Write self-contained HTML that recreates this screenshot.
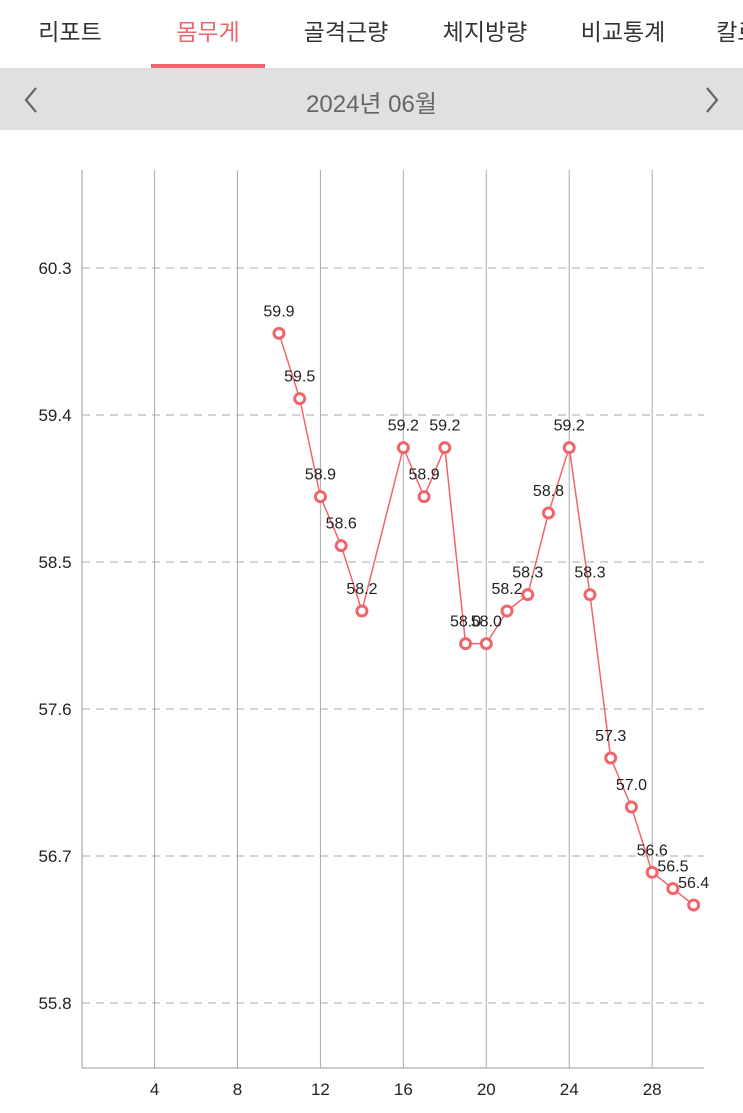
<!DOCTYPE html>
<html><head><meta charset="utf-8"><style>
body{margin:0;width:743px;height:1113px;background:#fff;font-family:"Liberation Sans","Noto Sans CJK KR",sans-serif;overflow:hidden;position:relative}
.tab{position:absolute;top:13px;font-size:23px;color:#333;transform:translateX(-50%);white-space:nowrap}
</style></head><body>
<div style="position:absolute;left:0;top:0;width:743px;height:68px;border-bottom:1px solid #ddd">
<div class="tab" style="left:70px">리포트</div>
<div class="tab" style="left:208px;color:#f0656b">몸무게</div>
<div class="tab" style="left:346px">골격근량</div>
<div class="tab" style="left:485px">체지방량</div>
<div class="tab" style="left:623px">비교통계</div>
<div class="tab" style="left:748px">칼로리</div>
<div style="position:absolute;left:151px;top:64px;width:114px;height:4px;background:#f0656b"></div>
</div>
<div style="position:absolute;left:0;top:69px;width:743px;height:61px;background:#e0e0e0">
<svg style="position:absolute;left:22px;top:17px" width="20" height="28"><polyline points="14,2 4,14 14,26" fill="none" stroke="#666" stroke-width="2.2"/></svg>
<div style="position:absolute;left:0;width:743px;top:15px;text-align:center;font-size:24px;color:#666">2024년 06월</div>
<svg style="position:absolute;left:701px;top:17px" width="20" height="28"><polyline points="6,2 16,14 6,26" fill="none" stroke="#666" stroke-width="2.2"/></svg>
</div>
<svg id="chart" width="743" height="1113" style="position:absolute;left:0;top:0"></svg>
<script>
const days=[10,11,12,13,14,16,17,18,19,20,21,22,23,24,25,26,27,28,29,30];
const weights=[59.9,59.5,58.9,58.6,58.2,59.2,58.9,59.2,58.0,58.0,58.2,58.3,58.8,59.2,58.3,57.3,57.0,56.6,56.5,56.4];
const yTicks=[60.3,59.4,58.5,57.6,56.7,55.8];
const xTicks=[4,8,12,16,20,24,28];
const NS='http://www.w3.org/2000/svg';
const svg=document.getElementById('chart');
const X0=82,X1=704,D0=0.5,D1=30.5;
const x=d=>X0+(d-D0)*(X1-X0)/(D1-D0);
const y=v=>268+(60.3-v)*147/0.9;
function mk(t,a){const e=document.createElementNS(NS,t);for(const k in a)e.setAttribute(k,a[k]);svg.appendChild(e);return e;}
let ax=mk('line',{x1:X0,x2:X0,y1:170,y2:1068,stroke:'#999','stroke-width':1});


let bx=mk('line',{x1:X0,x2:X1,y1:1068,y2:1068,stroke:'#999','stroke-width':1});


xTicks.forEach(d=>{
 let g=mk('line',{x1:x(d),x2:x(d),y1:170,y2:1068,stroke:'#aaa','stroke-width':1});
 
 
 let t=mk('text',{x:x(d),y:1095,'text-anchor':'middle','font-size':17,fill:'#222'});t.textContent=d;
 
 
});
yTicks.forEach(v=>{
 let g=mk('line',{x1:X0,x2:X1,y1:y(v),y2:y(v),stroke:'#aaa','stroke-width':1,'stroke-dasharray':'8,6'});
 
 
 let t=mk('text',{x:55,y:y(v)+6,'text-anchor':'middle','font-size':17,fill:'#222'});t.textContent=v.toFixed(1);
 
 
});
let pl=mk('polyline',{points:days.map((d,i)=>x(d)+','+y(weights[i])).join(' '),fill:'none',stroke:'#f0656b','stroke-width':1.5});


days.forEach((d,i)=>{
 let c=mk('circle',{cx:x(d),cy:y(weights[i]),r:5,fill:'#fff',stroke:'#f0656b','stroke-width':3});
 
 
 let t=mk('text',{x:x(d),y:y(weights[i])-17,'text-anchor':'middle','font-size':16,fill:'#222'});t.textContent=weights[i].toFixed(1);
 
 
});
</script>
</body></html>
